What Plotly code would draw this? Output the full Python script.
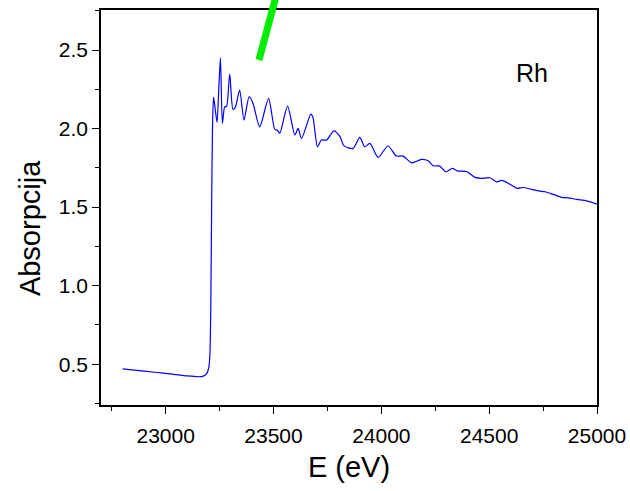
import plotly.graph_objects as go

energy = [22800, 22900, 23000, 23100, 23150, 23175, 23190, 23200, 23205, 23209, 23213, 23217, 23222,
          23230, 23238, 23246, 23254, 23263, 23274, 23282, 23297, 23312, 23323, 23343, 23363,
          23387, 23405, 23436, 23477, 23506, 23518, 23529, 23565, 23599, 23614, 23630, 23673,
          23683, 23704, 23722, 23746, 23780, 23807, 23827, 23869, 23900, 23923, 23947, 23985,
          24031, 24070, 24101, 24140, 24186, 24217, 24240, 24271, 24299, 24330, 24352, 24398,
          24434, 24465, 24503, 24534, 24558, 24596, 24630, 24658, 24697, 24735, 24759, 24797,
          24836, 24867, 24906, 24952, 25000]
absorption = [0.470, 0.456, 0.441, 0.425, 0.420, 0.424, 0.440, 0.480, 0.560, 0.850, 1.500, 2.000, 2.200,
              2.120, 2.040, 2.250, 2.450, 2.033, 2.140, 2.140, 2.347, 2.122, 2.135, 2.245, 2.054,
              2.203, 2.160, 2.011, 2.192, 1.995, 1.990, 1.970, 2.143, 1.959, 2.001, 1.938, 2.092,
              2.070, 1.884, 1.927, 1.927, 1.986, 1.952, 1.890, 1.874, 1.944, 1.884, 1.906, 1.817,
              1.889, 1.825, 1.825, 1.782, 1.804, 1.795, 1.763, 1.761, 1.725, 1.746, 1.731, 1.725,
              1.689, 1.683, 1.687, 1.661, 1.670, 1.646, 1.619, 1.625, 1.613, 1.602, 1.598, 1.581,
              1.562, 1.559, 1.549, 1.540, 1.519]

x_ticks = [23000, 23500, 24000, 24500, 25000]
y_ticks = [0.5, 1.0, 1.5, 2.0, 2.5]
y_ticklabels = ["0.5", "1.0", "1.5", "2.0", "2.5"]

font_family = "Liberation Sans, Arial, sans-serif"

fig = go.Figure()
fig.add_trace(go.Scatter(x=energy, y=absorption, mode="lines",
                         line=dict(color="#0000ff", width=1.2, shape="spline", smoothing=0.7),
                         showlegend=False))

fig.add_shape(type="line", xref="paper", yref="paper",
              x0=0.3185, y0=0.8734, x1=0.3589, y1=1.063,
              line=dict(color="#00ee00", width=7), layer="above")

fig.add_annotation(text="Rh", x=24700, y=2.355, xref="x", yref="y", showarrow=False,
                   font=dict(family=font_family, size=25, color="black"))

fig.add_annotation(text="Absorpcija", x=-0.143, y=0.448, xref="paper", yref="paper",
                   showarrow=False, textangle=-90, xanchor="center", yanchor="middle",
                   font=dict(family=font_family, size=29, color="black"))

fig.update_layout(
    width=630, height=491,
    margin=dict(l=101, r=33, t=10, b=86, autoexpand=False),
    plot_bgcolor="white", paper_bgcolor="white",
    font=dict(family=font_family, color="black"),
    xaxis=dict(range=[22700, 25000], tickvals=x_ticks, ticktext=[str(v) for v in x_ticks],
               automargin=False,
               ticks="outside", ticklen=7, tickwidth=1.3, tickcolor="black",
               showline=True, linecolor="black", linewidth=1.5, mirror=True,
               showgrid=False, zeroline=False, ticklabelstandoff=4,
               tickfont=dict(size=21, family=font_family),
               minor=dict(ticks="outside", ticklen=4, tickwidth=1.3, tickcolor="black",
                          dtick=250, tick0=22750, showgrid=False),
               title=dict(text="E (eV)", font=dict(size=29, family=font_family), standoff=11)),
    yaxis=dict(range=[0.24, 2.755], tickvals=y_ticks, ticktext=y_ticklabels,
               automargin=False,
               ticks="outside", ticklen=7, tickwidth=1.3, tickcolor="black",
               showline=True, linecolor="black", linewidth=1.5, mirror=True,
               showgrid=False, zeroline=False,
               tickfont=dict(size=21, family=font_family),
               minor=dict(ticks="outside", ticklen=4, tickwidth=1.3, tickcolor="black",
                          dtick=0.25, tick0=0.25, showgrid=False)),
)

fig.write_html("out.html")
